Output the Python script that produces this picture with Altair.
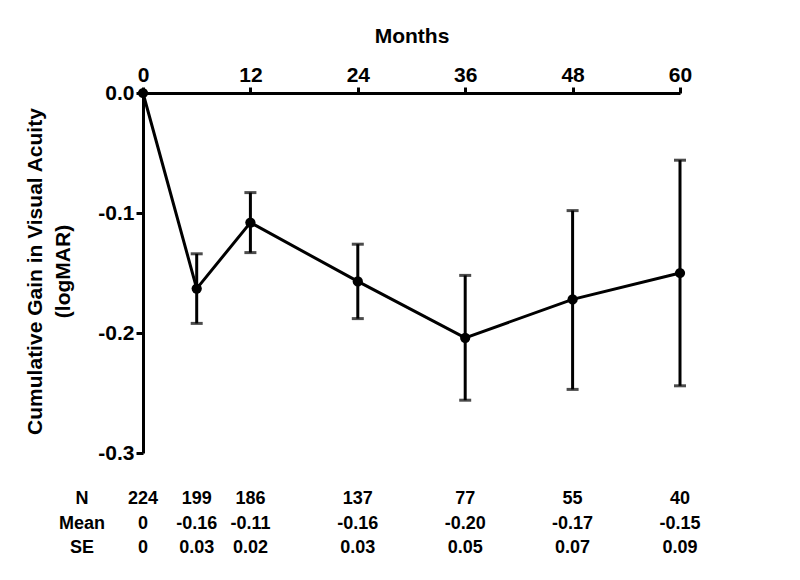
import altair as alt
import pandas as pd

# ---- data ----
months = [0, 6, 12, 24, 36, 48, 60]
mean_gain = [0.0, -0.163, -0.108, -0.157, -0.204, -0.172, -0.150]
err_upper = [0.0, -0.134, -0.083, -0.126, -0.152, -0.098, -0.056]
err_lower = [0.0, -0.192, -0.133, -0.188, -0.256, -0.247, -0.244]

table_n = ["224", "199", "186", "137", "77", "55", "40"]
table_mean = ["0", "-0.16", "-0.11", "-0.16", "-0.20", "-0.17", "-0.15"]
table_se = ["0", "0.03", "0.02", "0.03", "0.05", "0.07", "0.09"]
row_names = ["N", "Mean", "SE"]

x_ticks = [0, 12, 24, 36, 48, 60]
y_ticks = [0.0, -0.1, -0.2, -0.3]

FONT = "Liberation Sans"

df = pd.DataFrame({
    "month": months,
    "gain": mean_gain,
    "hi": err_upper,
    "lo": err_lower,
    "n": table_n,
    "mean_lbl": table_mean,
    "se_lbl": table_se,
})
df_err = df[df["month"] > 0]

x_enc = alt.X(
    "month:Q",
    scale=alt.Scale(domain=[0, 60], nice=False, zero=False),
    axis=alt.Axis(
        orient="top", values=x_ticks, title="Months", grid=False,
        titleY=-51, titleBaseline="alphabetic",
        titleFont=FONT, titleFontSize=21, titleFontWeight="bold", titleColor="black",
        labelFont=FONT, labelFontSize=21, labelFontWeight="bold", labelColor="black",
        labelPadding=2, tickSize=6, tickWidth=3, tickColor="black",
        domainWidth=3, domainColor="black", labelFlush=False,
    ),
)
y_enc = alt.Y(
    "gain:Q",
    scale=alt.Scale(domain=[-0.3, 0], nice=False, zero=False),
    axis=alt.Axis(
        values=y_ticks, grid=False,
        title=["Cumulative Gain in Visual Acuity", "(logMAR)"],
        titleX=-108, titleY=178, titleAngle=-90, titleAlign="center",
        titleBaseline="middle", titleLineHeight=28,
        titleFont=FONT, titleFontSize=21, titleFontWeight="bold", titleColor="black",
        labelExpr="replace(format(datum.value, '.1f'), '\u2212', '-')",
        labelFont=FONT, labelFontSize=21, labelFontWeight="bold", labelColor="black",
        labelPadding=2, tickSize=7, tickWidth=3, tickColor="black",
        domainWidth=3, domainColor="black", labelFlush=False,
    ),
)

base = alt.Chart(df)

line = base.mark_line(color="black", strokeWidth=3).encode(x=x_enc, y=y_enc)
pts = base.mark_circle(color="black", opacity=1, size=105).encode(x="month:Q", y="gain:Q")

errs = alt.Chart(df_err).mark_rule(color="black", strokeWidth=3).encode(
    x="month:Q", y="lo:Q", y2="hi:Q")
cap_hi = alt.Chart(df_err).mark_tick(color="black", orient="horizontal", size=12, thickness=3).encode(
    x="month:Q", y="hi:Q")
cap_lo = alt.Chart(df_err).mark_tick(color="black", orient="horizontal", size=12, thickness=3).encode(
    x="month:Q", y="lo:Q")

row_y = [411, 436, 460]
txt_kw = dict(font=FONT, fontSize=18, fontWeight="bold", color="black",
              align="center", baseline="alphabetic")

t_n = base.mark_text(**txt_kw).encode(x="month:Q", y=alt.value(row_y[0]), text="n:N")
t_m = base.mark_text(**txt_kw).encode(x="month:Q", y=alt.value(row_y[1]), text="mean_lbl:N")
t_s = base.mark_text(**txt_kw).encode(x="month:Q", y=alt.value(row_y[2]), text="se_lbl:N")

row_layers = []
for name, yy in zip(row_names, row_y):
    row_layers.append(
        alt.Chart(pd.DataFrame({"lbl": [name]})).mark_text(**txt_kw).encode(
            x=alt.value(-61), y=alt.value(yy), text="lbl:N")
    )

chart = alt.layer(line, errs, cap_hi, cap_lo, pts, t_n, t_m, t_s, *row_layers).properties(
    width=537, height=360,
    autosize=alt.AutoSizeParams(type="none"),
    padding={"left": 135, "top": 85, "right": 90, "bottom": 115},
    background="white",
).configure_view(stroke=None)

chart.save("out.html", embed_options={"renderer": "svg", "actions": False})
